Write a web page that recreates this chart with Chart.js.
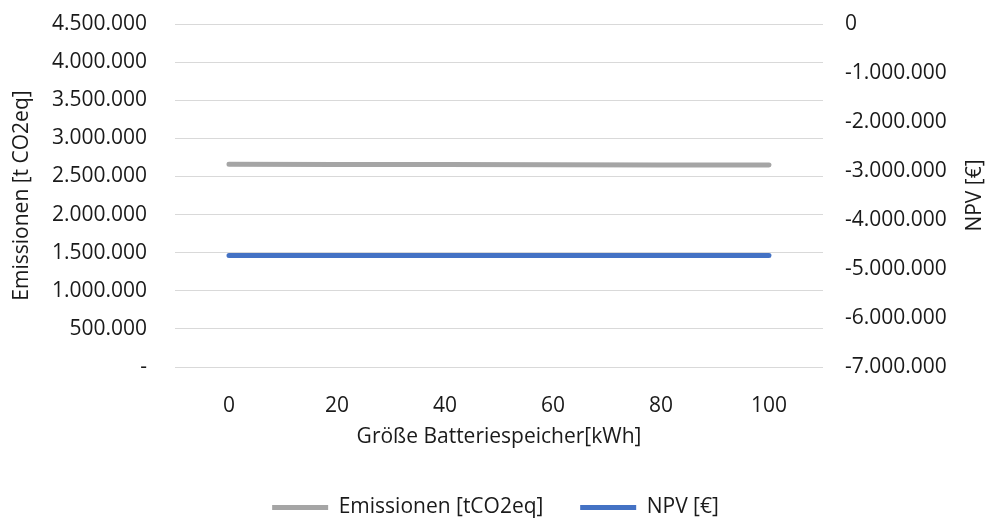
<!DOCTYPE html>
<html>
<head>
<meta charset="utf-8">
<script src="https://cdn.jsdelivr.net/npm/chart.js@4"></script>
<style>
  html, body { margin: 0; padding: 0; background: #fff; }
  #wrap { width: 991px; height: 522px; }
</style>
</head>
<body>
<div id="wrap"><canvas id="Chart1" width="991" height="522"></canvas></div>
<script>
// Größe Batteriespeicher [kWh]
var speicher = [0, 20, 40, 60, 80, 100];
var xTicks = [0, 20, 40, 60, 80, 100];
// Emissionen [tCO2eq]
var emissionen = [2659000, 2657500, 2655500, 2653000, 2651500, 2650000];
// NPV [€]
var npv = [-4722000, -4722500, -4723000, -4723500, -4724500, -4725000];

var FONT = "'Open Sans', 'Noto Sans', sans-serif";
var SIZE = 21;
var TEXT = '#1a1a1a';

function tausender(v) {
  var s = String(Math.round(Math.abs(v))).replace(/\B(?=(\d{3})+(?!\d))/g, '.');
  return v < 0 ? '-' + s : s;
}

function noPad(axis) { axis.paddingTop = 0; axis.paddingBottom = 0; }

// right axis title reads bottom-to-top like the left one
var rightTitle = {
  id: 'rightTitle',
  afterDraw: function (chart) {
    var c = chart.ctx, a = chart.chartArea;
    c.save();
    c.translate(975, (a.top + a.bottom) / 2);
    c.rotate(-Math.PI / 2);
    c.font = SIZE + 'px ' + FONT;
    c.fillStyle = TEXT;
    c.textAlign = 'center';
    c.textBaseline = 'middle';
    c.fillText('NPV [€]', 0, 0);
    c.restore();
  }
};

var ctx1 = document.getElementById('Chart1').getContext('2d');

var Chart1 = new Chart(ctx1, {
  type: 'line',
  data: {
    datasets: [{
      label: 'Emissionen [tCO2eq]',
      data: speicher.map(function (x, i) { return {x: x, y: emissionen[i]}; }),
      borderColor: '#a5a5a5',
      backgroundColor: '#a5a5a5',
      borderWidth: 5,
      borderCapStyle: 'round',
      pointRadius: 0,
      yAxisID: 'y'
    }, {
      label: 'NPV [€]',
      data: speicher.map(function (x, i) { return {x: x, y: npv[i]}; }),
      borderColor: '#4472c4',
      backgroundColor: '#4472c4',
      borderWidth: 5,
      borderCapStyle: 'round',
      pointRadius: 0,
      yAxisID: 'y1'
    }]
  },
  plugins: [rightTitle],
  options: {
    responsive: false,
    animation: false,
    layout: { padding: { top: 24, left: 0, right: 0, bottom: -6 } },
    plugins: {
      tooltip: { enabled: false },
      legend: {
        position: 'bottom',
        labels: {
          usePointStyle: true,
          pointStyle: 'line',
          pointStyleWidth: 56,
          padding: 4,
          color: TEXT,
          font: { family: FONT, size: SIZE },
          generateLabels: function (chart) {
            var items = Chart.defaults.plugins.legend.labels.generateLabels(chart);
            items[0].text = items[0].text + '      ';
            return items;
          }
        }
      }
    },
    scales: {
      x: {
        type: 'linear',
        min: -10,
        max: 110,
        grid: { display: false },
        border: { display: false },
        afterBuildTicks: function (axis) {
          axis.ticks = xTicks.map(function (v) { return {value: v}; });
        },
        afterFit: function (axis) { axis.height = 126; axis.paddingLeft = 0; axis.paddingRight = 0; },
        ticks: { padding: 18, color: TEXT, font: { family: FONT, size: SIZE } },
        title: {
          display: true,
          text: 'Größe Batteriespeicher[kWh]',
          color: TEXT,
          font: { family: FONT, size: SIZE },
          padding: { top: 0, bottom: 43 }
        }
      },
      y: {
        position: 'left',
        min: 0,
        max: 4500000,
        afterFit: function (axis) { axis.width = 175; noPad(axis); },
        grid: { color: '#d9d9d9', lineWidth: 1, drawTicks: false },
        border: { display: false },
        ticks: {
          stepSize: 500000,
          padding: 28,
          color: TEXT,
          font: { family: FONT, size: SIZE },
          callback: function (v) { return v === 0 ? '-' : tausender(v); }
        },
        title: {
          display: true,
          text: 'Emissionen [t CO2eq]',
          color: TEXT,
          font: { family: FONT, size: SIZE },
          padding: { top: 9, bottom: 0 }
        }
      },
      y1: {
        position: 'right',
        min: -7000000,
        max: 0,
        afterFit: function (axis) { axis.width = 168; noPad(axis); },
        grid: { display: false, drawTicks: false },
        border: { display: false },
        ticks: {
          stepSize: 1000000,
          padding: 22,
          color: TEXT,
          font: { family: FONT, size: SIZE },
          callback: function (v) { return tausender(v); }
        }
      }
    }
  }
});
</script>
</body>
</html>
